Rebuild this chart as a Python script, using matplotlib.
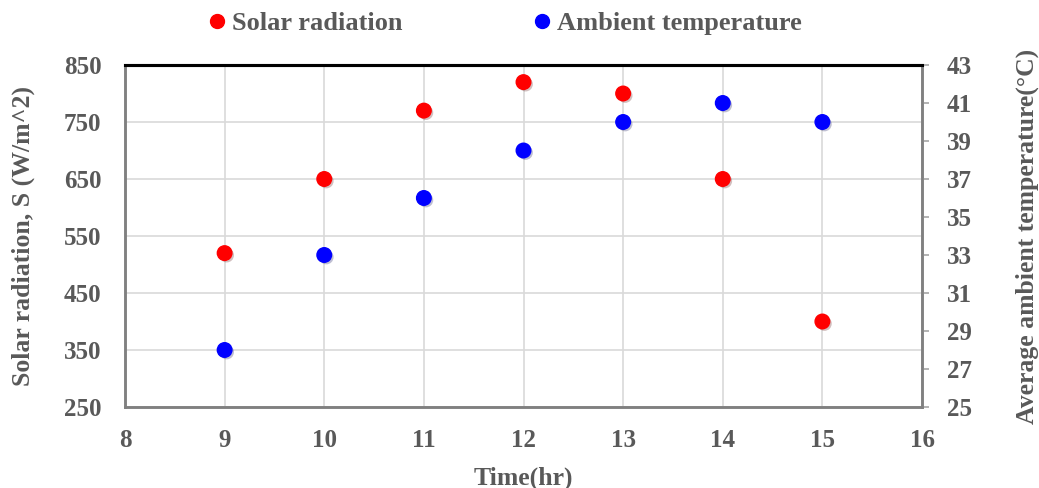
import matplotlib.pyplot as plt
import matplotlib.patheffects as pe
from matplotlib.lines import Line2D

# data
hours = [9, 10, 11, 12, 13, 14, 15]
solar = [520, 650, 770, 820, 800, 650, 400]
temperature = [28, 33, 36, 38.5, 40, 41, 40]

x_ticks = [8, 9, 10, 11, 12, 13, 14, 15, 16]
solar_ticks = [250, 350, 450, 550, 650, 750, 850]
temp_ticks = [25, 27, 29, 31, 33, 35, 37, 39, 41, 43]

TXT = "#595959"
GRID = "#D9D9D9"
plt.rcParams["font.family"] = ["Liberation Serif", "DejaVu Serif"]
plt.rcParams["font.weight"] = "bold"

fig = plt.figure(figsize=(10.39, 4.88), dpi=100)
ax = fig.add_axes([0.1203, 0.166, 0.7671, 0.7008])
ax2 = ax.twinx()

shadow = [pe.SimplePatchShadow(offset=(1.5, -1.5), alpha=0.25), pe.Normal()]
ax.scatter(hours, solar, s=110, color="#FF0000", zorder=3, path_effects=shadow)
ax2.scatter(hours, temperature, s=110, color="#0000FF", zorder=3, path_effects=shadow)

ax.set_xlim(8, 16)
ax.set_ylim(250, 850)
ax2.set_ylim(25, 43)
ax.set_xticks(x_ticks)
ax.set_yticks(solar_ticks)
ax2.set_yticks(temp_ticks)

ax.grid(True, color=GRID, linewidth=1.2)
ax.set_axisbelow(True)

for a in (ax, ax2):
    for side in ("left", "right", "bottom"):
        a.spines[side].set_color("#808080")
        a.spines[side].set_linewidth(1.8)
    a.spines["top"].set_color("black")
    a.spines["top"].set_linewidth(2.2)

ax.tick_params(axis="x", length=0, labelsize=18, labelcolor=TXT, pad=16)
ax.tick_params(axis="y", length=0, labelsize=18, labelcolor=TXT, pad=17)
ax2.tick_params(axis="y", length=5, color="#A6A6A6", width=1.2,
                labelsize=18, labelcolor=TXT, pad=13)

ax.set_xlabel("Time(hr)", fontsize=18.5, color=TXT, fontweight="bold", labelpad=10)
ax.set_ylabel("Solar radiation, S (W/m^2)", fontsize=18.5, color=TXT,
              fontweight="bold", labelpad=21)
ax2.set_ylabel("Average ambient temperature(°C)", fontsize=18.5, color=TXT,
               fontweight="bold", labelpad=31)

handles = [
    Line2D([], [], marker="o", linestyle="none", color="#FF0000", markersize=10),
    Line2D([], [], marker="o", linestyle="none", color="#0000FF", markersize=10),
]
leg = fig.legend(handles, ["Solar radiation", "Ambient temperature"],
                 loc="center", bbox_to_anchor=(0.484, 0.952), ncol=2,
                 frameon=False, fontsize=19, handletextpad=0.05,
                 columnspacing=4.8, handlelength=1.0)
for t in leg.get_texts():
    t.set_color(TXT)
    t.set_fontweight("bold")

fig.savefig("out.png", dpi=100)
